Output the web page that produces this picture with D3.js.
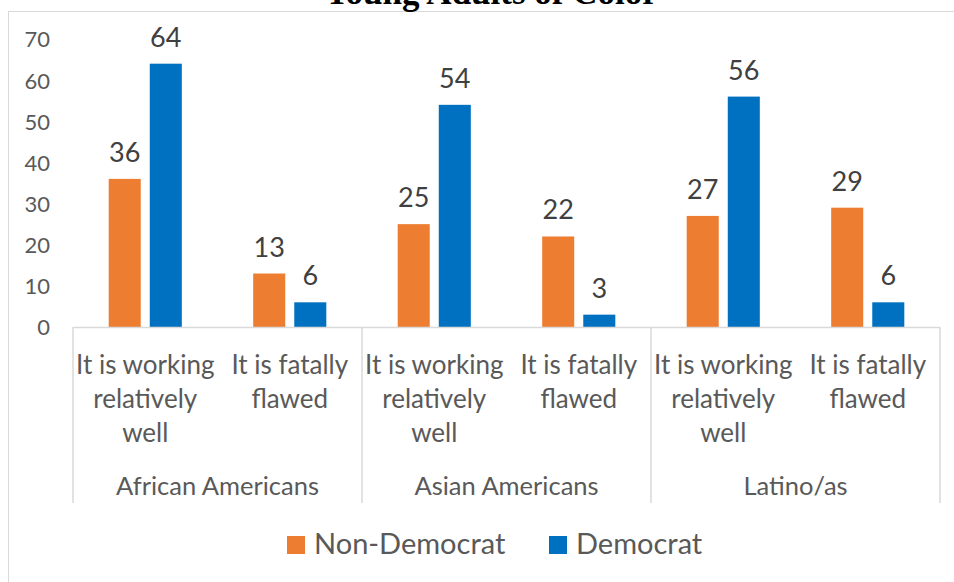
<!DOCTYPE html>
<html>
<head>
<meta charset="utf-8">
<script src="https://cdn.jsdelivr.net/npm/d3@7"></script>
<style>
  html, body { margin: 0; padding: 0; background: #fff; }
  svg { display: block; }
  text { font-family: Lato, "Open Sans", sans-serif; }
</style>
</head>
<body>
<svg id="chart" width="954" height="582"></svg>
<script>
// Opinions of young adults of color, by party, in percent
const groups = ["African Americans", "Asian Americans", "Latino/as"];
const answers = ["It is working relatively well", "It is fatally flawed"];
const answerLines = [["It is working", "relatively", "well"], ["It is fatally", "flawed"]];
const seriesNames = ["Non-Democrat", "Democrat"];
const seriesColors = ["#ED7D31", "#0070C0"];
// values[group][answer] for each series
const nonDemocrat = [[36, 13], [25, 22], [27, 29]];
const democrat = [[64, 6], [54, 3], [56, 6]];
const yTicks = [0, 10, 20, 30, 40, 50, 60, 70];
const title = "Young Adults of Color";

const svg = d3.select("#chart");

// outer chart frame (runs past the visible area on the right and bottom)
svg.append("rect")
  .attr("x", 8.5).attr("y", 11.5)
  .attr("width", 1000).attr("height", 1000)
  .attr("fill", "none").attr("stroke", "#d9d9d9").attr("stroke-width", 1);

// title, mostly cropped above the top edge
svg.append("text")
  .attr("x", 491).attr("y", 4)
  .attr("text-anchor", "middle")
  .style("font-family", "'Liberation Serif', serif")
  .style("font-weight", "bold")
  .style("font-size", "35px")
  .attr("fill", "#000")
  .text(title);

const plot = { left: 73, right: 940, top: 39, bottom: 327 };

const y = d3.scaleLinear().domain([0, 70]).range([plot.bottom, plot.top]);

const xGroup = d3.scaleBand().domain(groups).range([plot.left, plot.right]).padding(0);
const xAnswer = d3.scaleBand().domain(answers).range([0, xGroup.bandwidth()]).padding(0);
const xSeries = d3.scaleBand().domain(seriesNames)
  .range([xAnswer.bandwidth() * 0.247, xAnswer.bandwidth() * 0.753])
  .paddingInner(0.22).paddingOuter(0);

// y axis labels only (no axis line, no gridlines)
const yAxis = d3.axisLeft(y).tickValues(yTicks).tickSize(0).tickPadding(0);
const yg = svg.append("g").attr("transform", `translate(${50},0)`).call(yAxis);
yg.select(".domain").remove();
yg.selectAll("text")
  .style("font-size", "22px")
  .style("font-family", "Lato, sans-serif")
  .attr("fill", "#595959")
  .attr("dy", "0.36em");

// flatten records
const records = [];
groups.forEach((g, gi) => {
  answers.forEach((a, ai) => {
    records.push({ group: g, answer: a, series: seriesNames[0], value: nonDemocrat[gi][ai], color: seriesColors[0] });
    records.push({ group: g, answer: a, series: seriesNames[1], value: democrat[gi][ai], color: seriesColors[1] });
  });
});
const barX = d => xGroup(d.group) + xAnswer(d.answer) + xSeries(d.series);

svg.append("g").selectAll("rect").data(records).join("rect")
  .attr("x", barX)
  .attr("y", d => y(d.value))
  .attr("width", xSeries.bandwidth())
  .attr("height", d => y(0) - y(d.value))
  .attr("fill", d => d.color);

// value labels
svg.append("g").selectAll("text").data(records).join("text")
  .attr("x", d => barX(d) + xSeries.bandwidth() / 2)
  .attr("y", d => y(d.value) - 17)
  .attr("text-anchor", "middle")
  .style("font-size", "27px")
  .attr("fill", "#404040")
  .text(d => d.value);

// category axis: baseline and group separators
const axisColor = "#d9d9d9";
svg.append("line")
  .attr("x1", plot.left).attr("x2", plot.right)
  .attr("y1", plot.bottom + 0.5).attr("y2", plot.bottom + 0.5)
  .attr("stroke", axisColor).attr("stroke-width", 1.5);
const sepX = groups.map(g => xGroup(g)).concat([plot.right]);
svg.append("g").selectAll("line").data(sepX).join("line")
  .attr("x1", d => d).attr("x2", d => d)
  .attr("y1", plot.bottom).attr("y2", 503)
  .attr("stroke", axisColor).attr("stroke-width", 1.5);

// answer labels (wrapped)
groups.forEach(g => {
  answers.forEach((a, ai) => {
    const cx = xGroup(g) + xAnswer(a) + xAnswer.bandwidth() / 2;
    const t = svg.append("text")
      .attr("text-anchor", "middle")
      .style("font-size", "26px")
      .attr("fill", "#595959");
    answerLines[ai].forEach((line, li) => {
      t.append("tspan").attr("x", cx).attr("y", 374 + li * 34).text(line);
    });
  });
});

// group labels
svg.append("g").selectAll("text").data(groups).join("text")
  .attr("x", d => xGroup(d) + xGroup.bandwidth() / 2)
  .attr("y", 495)
  .attr("text-anchor", "middle")
  .style("font-size", "25.5px")
  .attr("fill", "#595959")
  .text(d => d);

// legend
const legend = svg.append("g");
const legendItems = [
  { name: seriesNames[0], color: seriesColors[0], x: 287 },
  { name: seriesNames[1], color: seriesColors[1], x: 549 }
];
legendItems.forEach(it => {
  legend.append("rect")
    .attr("x", it.x).attr("y", 536).attr("width", 18).attr("height", 18)
    .attr("fill", it.color);
  legend.append("text")
    .attr("x", it.x + 27).attr("y", 554)
    .style("font-size", "29px")
    .attr("fill", "#595959")
    .text(it.name);
});
</script>
</body>
</html>
